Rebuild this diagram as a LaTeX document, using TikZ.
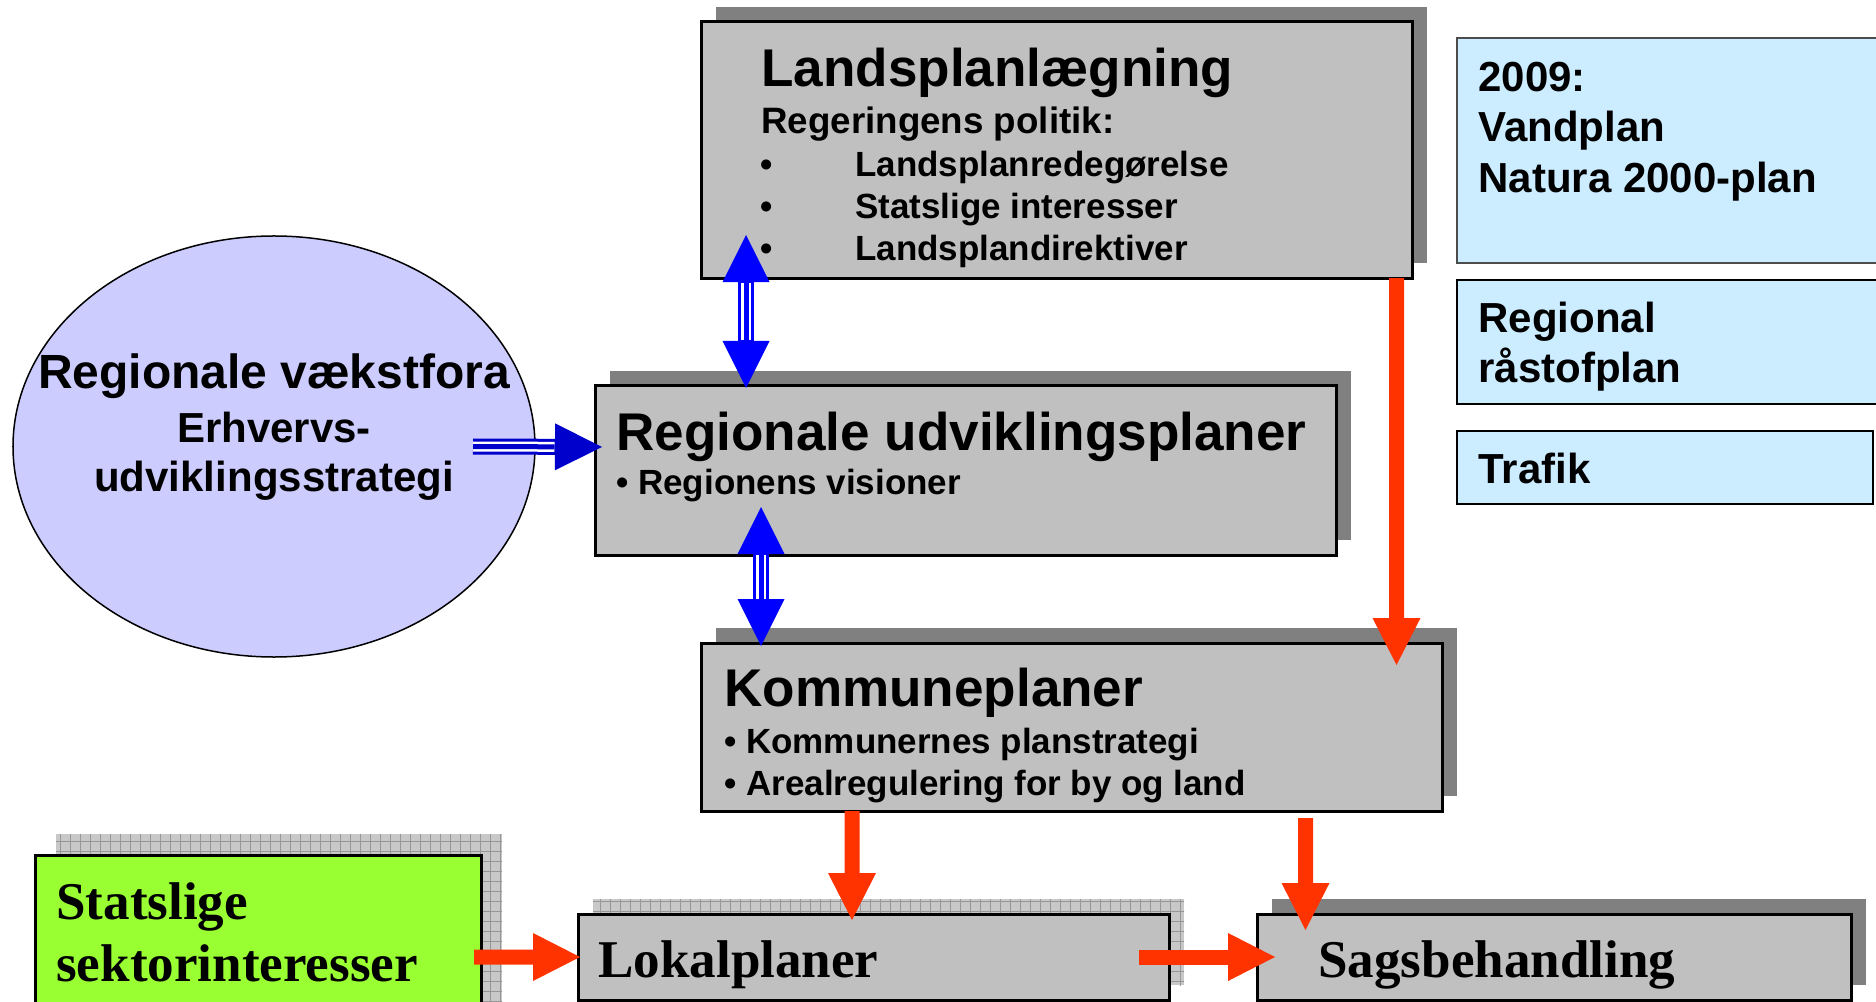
\documentclass[tikz,border=0pt]{standalone}
\usepackage{fontspec}
\setmainfont{Liberation Serif}
\newfontfamily\arial{Liberation Sans}
\usetikzlibrary{arrows.meta, shapes.geometric, shadows, patterns.meta}

\definecolor{boxgrey}{RGB}{192,192,192}
\definecolor{shadowgrey}{RGB}{128,128,128}
\definecolor{hatchgrey}{RGB}{200,200,200}
\definecolor{gridgrey}{RGB}{150,150,150}
\definecolor{skyblue}{RGB}{204,236,255}
\definecolor{lavender}{RGB}{204,204,255}
\definecolor{limegreen}{RGB}{153,255,51}
\definecolor{planred}{RGB}{255,51,0}
\definecolor{planblue}{RGB}{0,0,255}
\definecolor{darkblue}{RGB}{0,0,204}

\newcommand{\planTitle}{\arial\bfseries\fontsize{30.2pt}{36pt}\selectfont}
\newcommand{\planVaekst}{\arial\bfseries\fontsize{27.3pt}{33pt}\selectfont}
\newcommand{\planStrategi}{\arial\bfseries\fontsize{23.9pt}{29pt}\selectfont}
\newcommand{\planPolitik}{\arial\bfseries\fontsize{20.9pt}{25pt}\selectfont}
\newcommand{\planItem}{\arial\bfseries\fontsize{19.9pt}{24pt}\selectfont}
\newcommand{\planInfo}{\arial\bfseries\fontsize{23.9pt}{29pt}\selectfont}
\newcommand{\planTimes}{\bfseries\fontsize{30.2pt}{36pt}\selectfont}

\tikzset{
    basebox/.style={draw, line width=0.6mm, fill=boxgrey},
    planbox/.style={basebox,
        drop shadow={shadow xshift=3mm, shadow yshift=3mm, fill=shadowgrey, opacity=1}},
    hatchshadow/.style={
        drop shadow={shadow xshift=#1, shadow yshift=#1, fill=hatchgrey, opacity=1},
        drop shadow={shadow xshift=#1, shadow yshift=#1, opacity=1,
            pattern={Hatch[distance=2mm, line width=0.2mm]}, pattern color=gridgrey}},
    infobox/.style={draw, line width=0.5mm, fill=skyblue},
    bluetip/.tip={Triangle[length=9.4mm, width=9.4mm, line width=0pt]},
    redtip/.tip={Triangle[length=9.4mm, width=9.6mm, line width=0pt]},
}

\begin{document}
\begin{tikzpicture}[x=0.2mm, y=-0.2mm]

\path[use as bounding box, fill=white] (0,0) rectangle (1876,1002);

% boxes
\begin{scope}[every node/.style={anchor=north west, inner sep=0pt, outer sep=0pt}]
    \node (lands) at (701,22) [planbox, minimum width=142.2mm, minimum height=51.2mm] {};
    \node (reg) at (595,386) [planbox, minimum width=148.2mm, minimum height=33.8mm] {};
    \node (komm) at (701,643) [planbox, minimum width=148.2mm, minimum height=33.6mm] {};

    \node (stat) at (35,855) [basebox, fill=limegreen, hatchshadow=4.2mm,
        minimum width=89.2mm, minimum height=40.8mm] {};
    \node (lokal) at (578,914) [basebox, hatchshadow=3mm,
        minimum width=118.2mm, minimum height=17.2mm] {};
    \node (sags) at (1257,914) [planbox, minimum width=118.8mm, minimum height=17.2mm] {};

    \node (vand) at (1457,38) [infobox, line width=0.4mm, draw=black!70,
        minimum width=92mm, minimum height=45mm] {};
    \node (raastof) at (1457,280) [infobox, minimum width=92mm, minimum height=24.8mm] {};
    \node (trafik) at (1457,431) [infobox, minimum width=83.2mm, minimum height=14.6mm] {};
\end{scope}

\node (vaekst) at (274,446.5) [ellipse, draw, line width=0.3mm, fill=lavender,
    inner sep=0pt, outer sep=0pt, minimum width=104.4mm, minimum height=84.2mm] {};

% texts
\begin{scope}[every node/.style={anchor=base west, inner sep=0pt}]
    \node (lands-title) at (761,87) [font=\planTitle] {Landsplanlægning};
    \node (lands-sub) at (761,134) [font=\planPolitik] {Regeringens politik:};
    \foreach \txt [count=\i] in {Landsplanredegørelse, Statslige interesser, Landsplandirektiver} {
        \node (lands-bullet\i) at (760,{135+42*\i}) [font=\planItem] {•};
        \node (lands-item\i) at (855,{135+42*\i}) [font=\planItem] {\txt};
    }

    \node (reg-title) at (616,451) [font=\planTitle] {Regionale udviklingsplaner};
    \node (reg-item) at (616,494) [font=\planItem] {• Regionens visioner};

    \node (komm-title) at (724,706) [font=\planTitle] {Kommuneplaner};
    \node (komm-item1) at (724,753) [font=\planItem] {• Kommunernes planstrategi};
    \node (komm-item2) at (724,795) [font=\planItem] {• Arealregulering for by og land};

    \node (vand-l1) at (1478,92) [font=\planInfo] {2009:};
    \node (vand-l2) at (1478,142) [font=\planInfo] {Vandplan};
    \node (vand-l3) at (1478,193) [font=\planInfo] {Natura 2000-plan};
    \node (raastof-l1) at (1478,333) [font=\planInfo] {Regional};
    \node (raastof-l2) at (1478,383) [font=\planInfo] {råstofplan};
    \node (trafik-l1) at (1478,483) [font=\planInfo] {Trafik};

    \node (stat-l1) at (56,919) [font=\planTimes] {Statslige};
    \node (stat-l2) at (56,981) [font=\planTimes] {sektorinteresser};
    \node (lokal-text) at (598,977) [font=\planTimes] {Lokalplaner};
    \node (sags-text) at (1318,977) [font=\planTimes] {Sagsbehandling};
\end{scope}

\begin{scope}[every node/.style={anchor=base, inner sep=0pt}]
    \node (vaekst-l1) at (274,389) [font=\planVaekst] {Regionale vækstfora};
    \node (vaekst-l2) at (274,443) [font=\planStrategi] {Erhvervs-};
    \node (vaekst-l3) at (274,492) [font=\planStrategi] {udviklingsstrategi};
\end{scope}

% connectors
\begin{scope}[blueshaft/.style={draw=#1, line width=3.2mm,
                  postaction={draw=white, line width=2mm, arrows=-, shorten <=9.5mm, shorten >=9.5mm},
                  postaction={draw=#1, line width=1mm, arrows=-, shorten <=9.5mm, shorten >=9.5mm}},
              redarrow/.style={draw=planred, line width=3mm, -redtip}]

    \draw [blueshaft=planblue, bluetip-bluetip]
        ([shift={(45,-43)}]lands.south west) -- ([shift={(151,2)}]reg.north west);
    \draw [blueshaft=planblue, bluetip-bluetip]
        ([shift={(166,-48)}]reg.south west) -- ([shift={(60,3)}]komm.north west);
    \draw [draw=darkblue, line width=3.2mm, -bluetip,
           postaction={draw=white, line width=2mm, arrows=-, shorten >=9.5mm},
           postaction={draw=darkblue, line width=1mm, arrows=-, shorten >=9.5mm}]
        ([xshift=-12.4mm]vaekst.east) -- ([shift={(7,61)}]reg.north west);

    \draw [redarrow] ([xshift=-3.1mm]lands.south east) -- ([shift={(-45.5,22)}]komm.north east);
    \draw [redarrow] ([xshift=30.2mm]komm.south west) -- ([shift={(274,6)}]lokal.north west);
    \draw [redarrow] ([shift={(-136.5,7)}]komm.south east) -- ([shift={(48.5,16)}]sags.north west);
    \draw [redarrow] ([xshift=-1.4mm]stat.east) -- ([xshift=0.4mm]lokal.west);
    \draw [redarrow] ([xshift=-6mm]lokal.east) -- ([xshift=3.6mm]sags.west);
\end{scope}

\end{tikzpicture}
\end{document}
